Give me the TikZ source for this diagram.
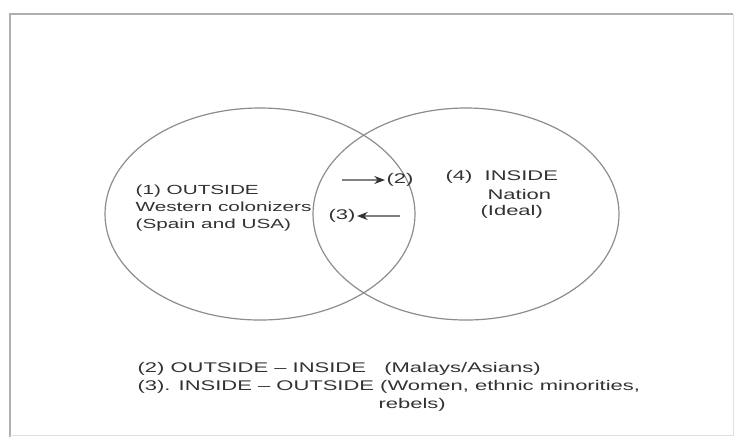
\documentclass[tikz,border=0pt]{standalone}
\usepackage{fontspec}
\setmainfont[FakeStretch=1.57]{Liberation Sans}
\usepackage{xcolor}
\usetikzlibrary{shapes.geometric,arrows.meta}
\definecolor{inkgray}{RGB}{50,50,50}
\definecolor{ringgray}{RGB}{140,140,140}
\definecolor{framegray}{RGB}{175,175,175}

\begin{document}
\begin{tikzpicture}[x=0.75pt,y=-0.75pt,
  ring/.style={ellipse, draw=ringgray, line width=0.9pt, minimum width=232.5pt, minimum height=159pt, inner sep=0pt},
  lbl/.style={text=inkgray, font=\fontsize{10.5}{12.75}\selectfont, inner sep=1pt},
  arr/.style={-{Stealth[length=8pt,width=6pt,color=inkgray]}, draw=gray, line width=1pt}]
\useasboundingbox (0,0) rectangle (734,437);
% frame
\draw[framegray, line width=0.8pt] (10,437) -- (10,14) -- (733,14);
\draw[black!12, line width=0.6pt] (733,14) -- (733,435) -- (10,435);

% the two sets
\node[ring] (outside) at (260,214) {};
\node[ring, minimum width=229.5pt] (inside) at (466,214) {};

% labels in the sets
\node[lbl, font=\fontsize{9.9}{12.75}\selectfont, anchor=west, align=left] (n1) at (134,208) {(1) OUTSIDE\\Western colonizers\\(Spain and USA)};
\node[lbl] (n2) at (400,180) {(2)};
\node[lbl] (n3) at (342,216) {(3)};
\node[lbl, anchor=west] (n4) at (444,177) {(4)~~INSIDE};
\node[lbl, anchor=west] (nation) at (486,194) {Nation};
\node[lbl, anchor=west] (ideal) at (479,212) {(Ideal)};

\coordinate (from2) at (342,180);
\coordinate (from3) at (400,216);
\draw[arr] (from2) -- (n2);
\draw[arr] (from3) -- (n3);

% key
\node[lbl, anchor=west] (key2) at (136,369) {(2) OUTSIDE -- INSIDE~~~(Malays/Asians)};
\node[lbl, anchor=west] (key3) at (136,387) {(3). INSIDE -- OUTSIDE (Women, ethnic minorities,};
\node[lbl, anchor=west] (key3b) at (377,405) {rebels)};
\end{tikzpicture}
\end{document}
